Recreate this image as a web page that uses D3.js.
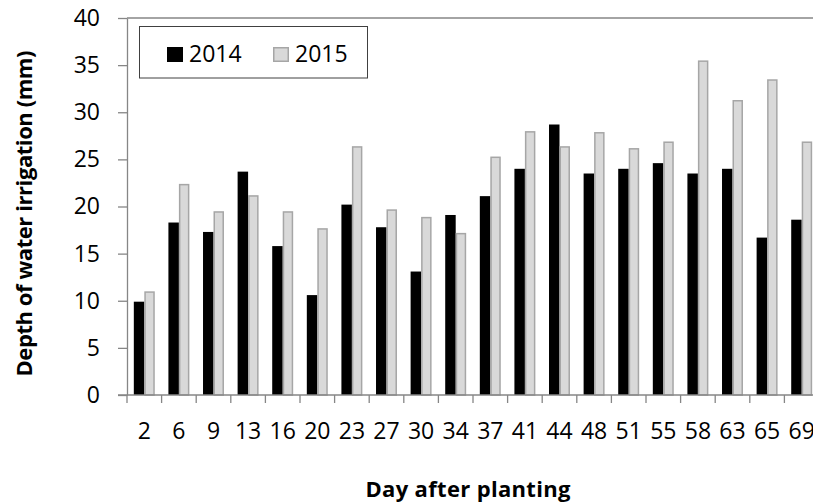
<!DOCTYPE html>
<html>
<head>
<meta charset="utf-8">
<script src="https://cdn.jsdelivr.net/npm/d3@7"></script>
<style>
  html, body { margin: 0; padding: 0; background: #fff; }
  svg { display: block; font-family: "Open Sans", "Liberation Sans", sans-serif; }
</style>
</head>
<body>
<svg id="chart" width="813" height="503"></svg>
<script>
const categories = ["2","6","9","13","16","20","23","27","30","34","37","41","44","48","51","55","58","63","65","69"];
const values2014 = [9.9,18.3,17.3,23.7,15.8,10.6,20.2,17.8,13.1,19.1,21.1,24.0,28.7,23.5,24.0,24.6,23.5,24.0,16.7,18.6];
const values2015 = [11.0,22.4,19.5,21.2,19.5,17.7,26.4,19.7,18.9,17.2,25.3,28.0,26.4,27.9,26.2,26.9,35.5,31.3,33.5,26.9];
const seriesNames = ["2014","2015"];
const yTicks = [0,5,10,15,20,25,30,35,40];
const yTitle = "Depth of water irrigation (mm)";
const xTitle = "Day after planting";

const svg = d3.select("#chart");
const mLeft = 127, mRight = 819, mTop = 18, mBottom = 395;
const axisColor = "#868686";
const fills = ["#000000", "#d9d9d9"];
const strokes = ["none", "#a6a6a6"];
const fs = 23;

const x = d3.scaleBand().domain(categories).range([mLeft, mRight]).paddingInner(0).paddingOuter(0);
const x1 = d3.scaleBand().domain([0,1]).range([0, x.bandwidth()]).paddingInner(0).paddingOuter(0.65);
const y = d3.scaleLinear().domain([0, 40]).range([mBottom, mTop]);

// top border of plot area
svg.append("line")
  .attr("x1", mLeft).attr("x2", mRight)
  .attr("y1", y(40)).attr("y2", y(40))
  .attr("stroke", axisColor).attr("stroke-width", 1.3);

// bars
const series = [values2014, values2015];
series.forEach((vals, si) => {
  svg.append("g").selectAll("rect").data(vals).join("rect")
    .attr("x", (d, i) => x(categories[i]) + x1(si) + (si === 1 ? 0.75 : 0))
    .attr("y", d => y(d) + (si === 1 ? 0.75 : 0))
    .attr("width", x1.bandwidth() - (si === 1 ? 1.5 : 0))
    .attr("height", d => y(0) - y(d) - (si === 1 ? 0.75 : 0))
    .attr("fill", fills[si])
    .attr("stroke", strokes[si])
    .attr("stroke-width", 1.5);
});

// y axis
const yAxis = svg.append("g")
  .attr("transform", `translate(${mLeft},0)`)
  .call(d3.axisLeft(y).tickValues(yTicks).tickSize(9).tickPadding(18).tickSizeOuter(0));
yAxis.select(".domain").attr("stroke", axisColor).attr("stroke-width", 1.3);
yAxis.selectAll(".tick line").attr("stroke", axisColor).attr("stroke-width", 1.3);
yAxis.selectAll(".tick text").attr("font-size", fs).attr("fill", "#000")
  .attr("font-family", "'Open Sans', sans-serif");

// x axis
const xAxis = svg.append("g")
  .attr("transform", `translate(0,${mBottom})`)
  .call(d3.axisBottom(x).tickSize(0).tickPadding(28).tickSizeOuter(0));
xAxis.select(".domain").remove();
xAxis.selectAll(".tick text").attr("font-size", fs).attr("fill", "#000")
  .attr("font-family", "'Open Sans', sans-serif");
svg.append("line")
  .attr("x1", mLeft - 9).attr("x2", mRight)
  .attr("y1", mBottom).attr("y2", mBottom)
  .attr("stroke", axisColor).attr("stroke-width", 1.3);
const boundaries = categories.map(c => x(c)).concat([x.range()[1]]);
svg.append("g").selectAll("line").data(boundaries).join("line")
  .attr("x1", d => d).attr("x2", d => d)
  .attr("y1", mBottom).attr("y2", mBottom + 8)
  .attr("stroke", axisColor).attr("stroke-width", 1.3);

// axis titles
svg.append("text")
  .attr("transform", `translate(32,${213.5}) rotate(-90)`)
  .attr("text-anchor", "middle")
  .attr("font-size", 22).attr("font-weight", "bold")
  .attr("textLength", 326).attr("lengthAdjust", "spacing")
  .text(yTitle);
svg.append("text")
  .attr("x", 468).attr("y", 496.5)
  .attr("text-anchor", "middle")
  .attr("font-size", 22).attr("font-weight", "bold")
  .attr("textLength", 205).attr("lengthAdjust", "spacing")
  .text(xTitle);

// legend
const lg = svg.append("g");
lg.append("rect").attr("x", 139.5).attr("y", 26.5).attr("width", 228).attr("height", 51.5)
  .attr("fill", "#fff").attr("stroke", "#404040").attr("stroke-width", 1);
const legendX = [167, 273];
seriesNames.forEach((name, i) => {
  lg.append("rect")
    .attr("x", legendX[i] + (i === 1 ? 0.75 : 0)).attr("y", 47 + (i === 1 ? 0.75 : 0))
    .attr("width", 16 - (i === 1 ? 1.5 : 0)).attr("height", 15 - (i === 1 ? 1.5 : 0))
    .attr("fill", fills[i]).attr("stroke", strokes[i]).attr("stroke-width", 1.5);
  lg.append("text")
    .attr("x", legendX[i] + 22).attr("y", 62)
    .attr("font-size", fs)
    .text(name);
});
</script>
</body>
</html>
